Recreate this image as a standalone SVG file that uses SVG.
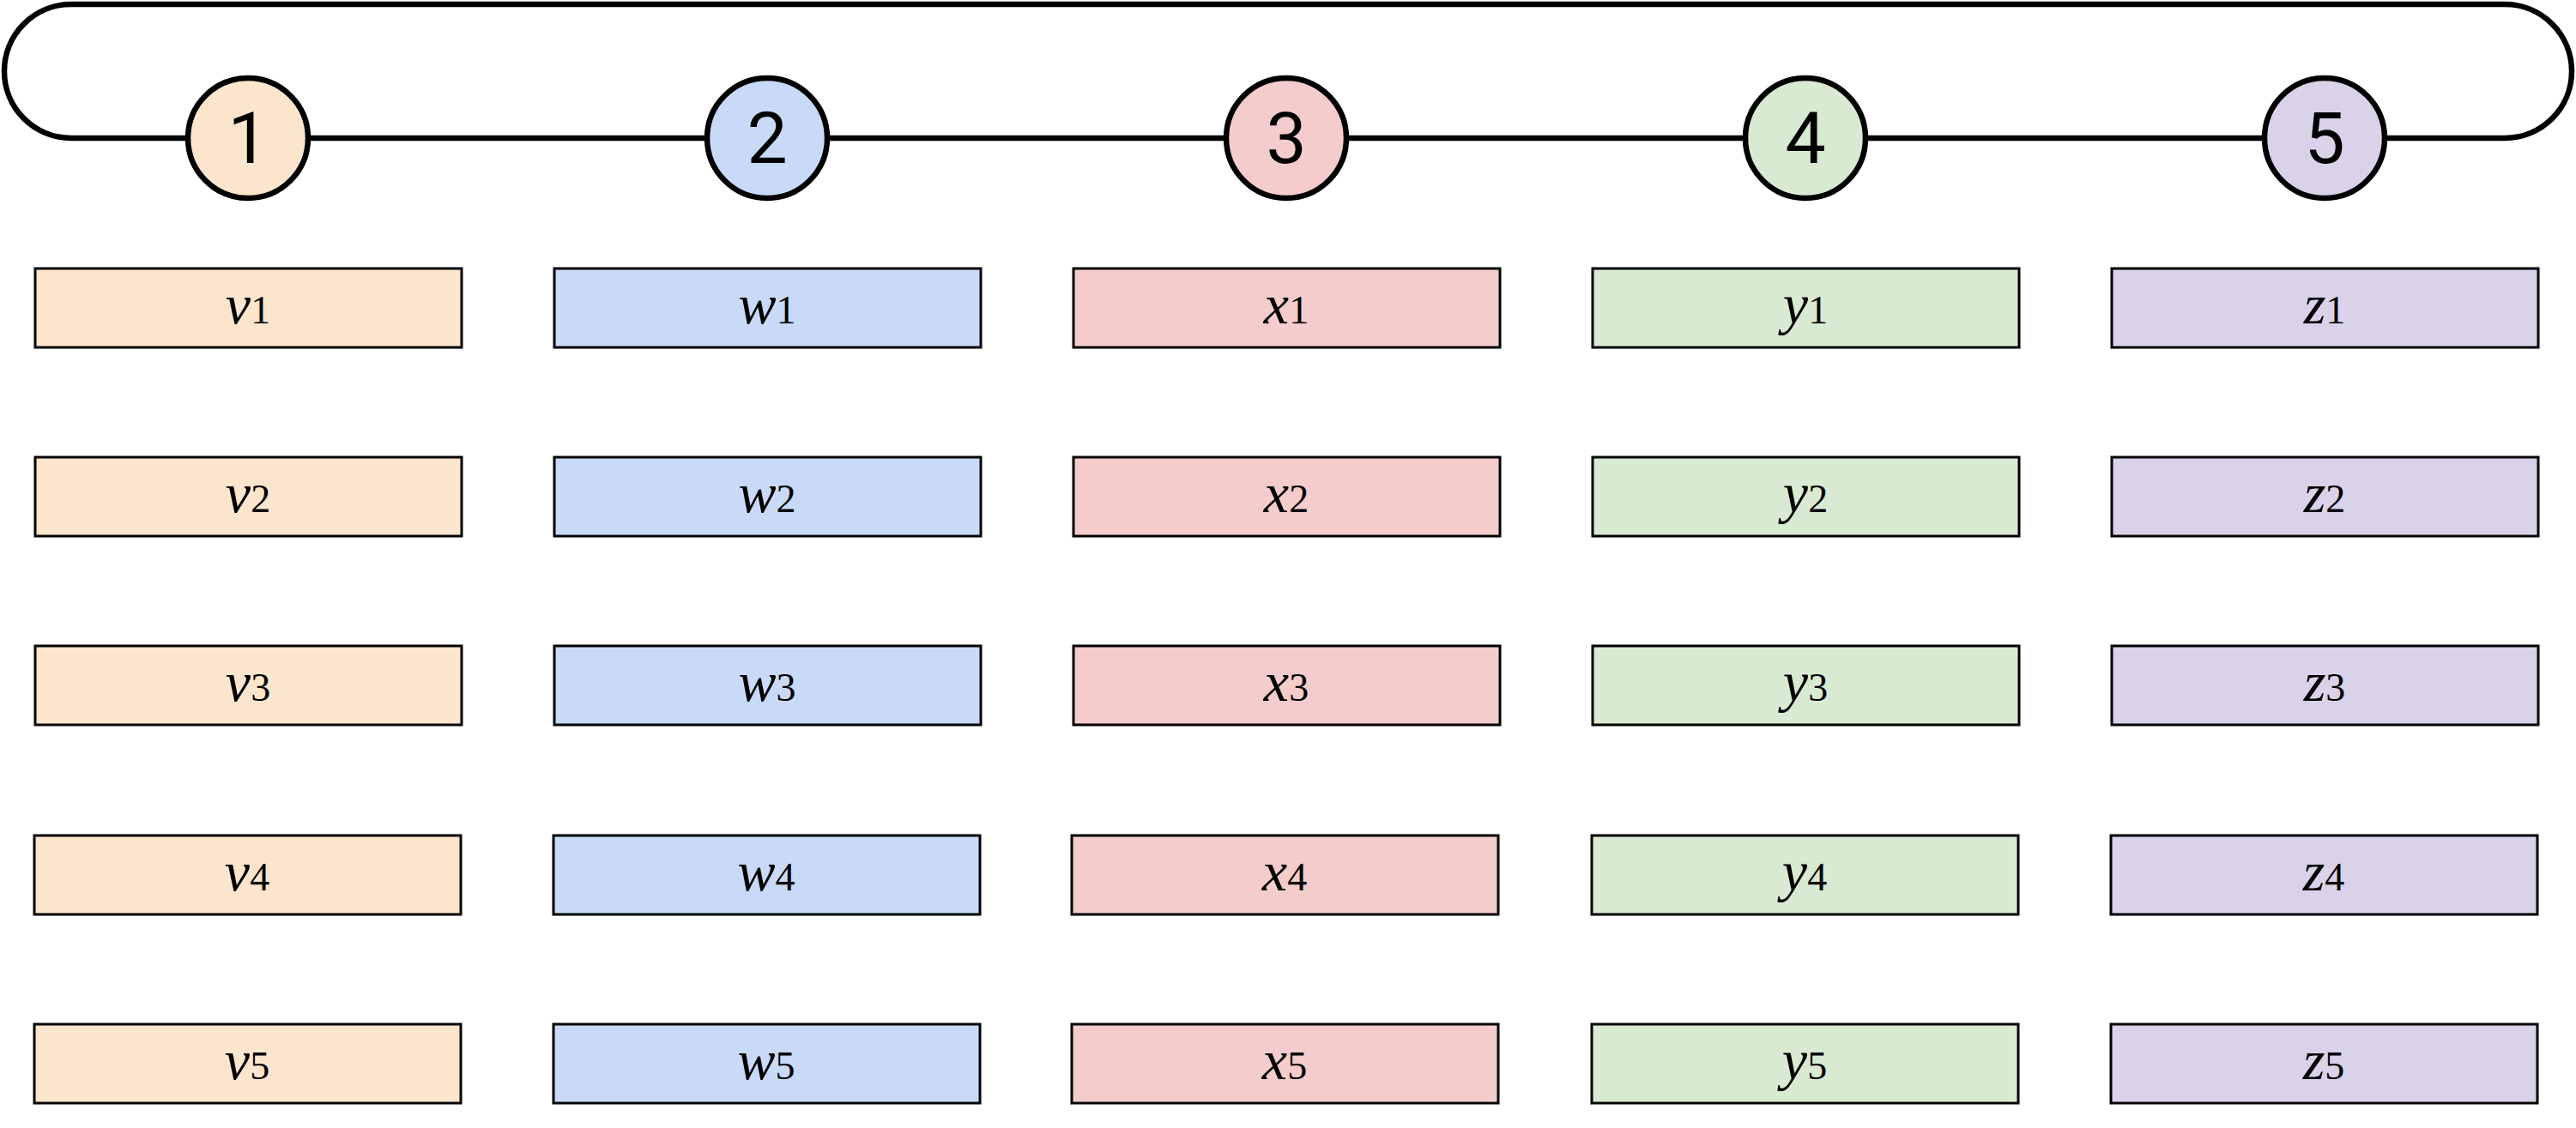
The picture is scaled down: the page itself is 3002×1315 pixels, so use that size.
<svg xmlns="http://www.w3.org/2000/svg" width="3002" height="1315" viewBox="0 0 3002 1315">
<style>
.loop{fill:none;stroke:#000;stroke-width:6.5}
.c{stroke:#000;stroke-width:6.5}
.r{stroke:#000;stroke-width:3}
.num{font-family:Roboto,"Liberation Sans",sans-serif;font-size:84px;text-anchor:middle;fill:#000}
.lab{font-family:"Liberation Serif","Times New Roman",serif;text-anchor:middle;fill:#000}
.v{font-style:italic;font-size:66px}
.s{font-size:46px}
.o{fill:#FCE5CD}.b{fill:#C9DAF8}.p{fill:#F4CCCC}.g{fill:#D9EAD3}.u{fill:#D9D2E9}
</style>
<g id="connectors">
<path class="loop" d="M83,161 A78,78 0 0 1 83,5 L2919,5 A78,78 0 0 1 2919,161 L83,161"/>
</g>
<g id="node-1"><circle class="c o" cx="289" cy="161" r="70"/><text class="num" x="289" y="190">1</text></g>
<g id="node-2"><circle class="c b" cx="894" cy="161" r="70"/><text class="num" x="894" y="190">2</text></g>
<g id="node-3"><circle class="c p" cx="1499" cy="161" r="70"/><text class="num" x="1499" y="190">3</text></g>
<g id="node-4"><circle class="c g" cx="2104" cy="161" r="70"/><text class="num" x="2104" y="190">4</text></g>
<g id="node-5"><circle class="c u" cx="2709" cy="161" r="70"/><text class="num" x="2709" y="190">5</text></g>

<g id="v1"><rect class="r o" x="41" y="313" width="497" height="92"/><text class="lab" x="289" y="377"><tspan class="v">v</tspan><tspan class="s">1</tspan></text></g>
<g id="v2"><rect class="r o" x="41" y="533" width="497" height="92"/><text class="lab" x="289" y="597"><tspan class="v">v</tspan><tspan class="s">2</tspan></text></g>
<g id="v3"><rect class="r o" x="41" y="753" width="497" height="92"/><text class="lab" x="289" y="817"><tspan class="v">v</tspan><tspan class="s">3</tspan></text></g>
<g id="v4"><rect class="r o" x="40" y="974" width="497" height="92"/><text class="lab" x="288" y="1038"><tspan class="v">v</tspan><tspan class="s">4</tspan></text></g>
<g id="v5"><rect class="r o" x="40" y="1194" width="497" height="92"/><text class="lab" x="288" y="1258"><tspan class="v">v</tspan><tspan class="s">5</tspan></text></g>

<g id="w1"><rect class="r b" x="646" y="313" width="497" height="92"/><text class="lab" x="894" y="377"><tspan class="v">w</tspan><tspan class="s">1</tspan></text></g>
<g id="w2"><rect class="r b" x="646" y="533" width="497" height="92"/><text class="lab" x="894" y="597"><tspan class="v">w</tspan><tspan class="s">2</tspan></text></g>
<g id="w3"><rect class="r b" x="646" y="753" width="497" height="92"/><text class="lab" x="894" y="817"><tspan class="v">w</tspan><tspan class="s">3</tspan></text></g>
<g id="w4"><rect class="r b" x="645" y="974" width="497" height="92"/><text class="lab" x="893" y="1038"><tspan class="v">w</tspan><tspan class="s">4</tspan></text></g>
<g id="w5"><rect class="r b" x="645" y="1194" width="497" height="92"/><text class="lab" x="893" y="1258"><tspan class="v">w</tspan><tspan class="s">5</tspan></text></g>

<g id="x1"><rect class="r p" x="1251" y="313" width="497" height="92"/><text class="lab" x="1499" y="377"><tspan class="v">x</tspan><tspan class="s">1</tspan></text></g>
<g id="x2"><rect class="r p" x="1251" y="533" width="497" height="92"/><text class="lab" x="1499" y="597"><tspan class="v">x</tspan><tspan class="s">2</tspan></text></g>
<g id="x3"><rect class="r p" x="1251" y="753" width="497" height="92"/><text class="lab" x="1499" y="817"><tspan class="v">x</tspan><tspan class="s">3</tspan></text></g>
<g id="x4"><rect class="r p" x="1249" y="974" width="497" height="92"/><text class="lab" x="1497" y="1038"><tspan class="v">x</tspan><tspan class="s">4</tspan></text></g>
<g id="x5"><rect class="r p" x="1249" y="1194" width="497" height="92"/><text class="lab" x="1497" y="1258"><tspan class="v">x</tspan><tspan class="s">5</tspan></text></g>

<g id="y1"><rect class="r g" x="1856" y="313" width="497" height="92"/><text class="lab" x="2104" y="377"><tspan class="v">y</tspan><tspan class="s">1</tspan></text></g>
<g id="y2"><rect class="r g" x="1856" y="533" width="497" height="92"/><text class="lab" x="2104" y="597"><tspan class="v">y</tspan><tspan class="s">2</tspan></text></g>
<g id="y3"><rect class="r g" x="1856" y="753" width="497" height="92"/><text class="lab" x="2104" y="817"><tspan class="v">y</tspan><tspan class="s">3</tspan></text></g>
<g id="y4"><rect class="r g" x="1855" y="974" width="497" height="92"/><text class="lab" x="2103" y="1038"><tspan class="v">y</tspan><tspan class="s">4</tspan></text></g>
<g id="y5"><rect class="r g" x="1855" y="1194" width="497" height="92"/><text class="lab" x="2103" y="1258"><tspan class="v">y</tspan><tspan class="s">5</tspan></text></g>

<g id="z1"><rect class="r u" x="2461" y="313" width="497" height="92"/><text class="lab" x="2709" y="377"><tspan class="v">z</tspan><tspan class="s">1</tspan></text></g>
<g id="z2"><rect class="r u" x="2461" y="533" width="497" height="92"/><text class="lab" x="2709" y="597"><tspan class="v">z</tspan><tspan class="s">2</tspan></text></g>
<g id="z3"><rect class="r u" x="2461" y="753" width="497" height="92"/><text class="lab" x="2709" y="817"><tspan class="v">z</tspan><tspan class="s">3</tspan></text></g>
<g id="z4"><rect class="r u" x="2460" y="974" width="497" height="92"/><text class="lab" x="2708" y="1038"><tspan class="v">z</tspan><tspan class="s">4</tspan></text></g>
<g id="z5"><rect class="r u" x="2460" y="1194" width="497" height="92"/><text class="lab" x="2708" y="1258"><tspan class="v">z</tspan><tspan class="s">5</tspan></text></g>
</svg>
